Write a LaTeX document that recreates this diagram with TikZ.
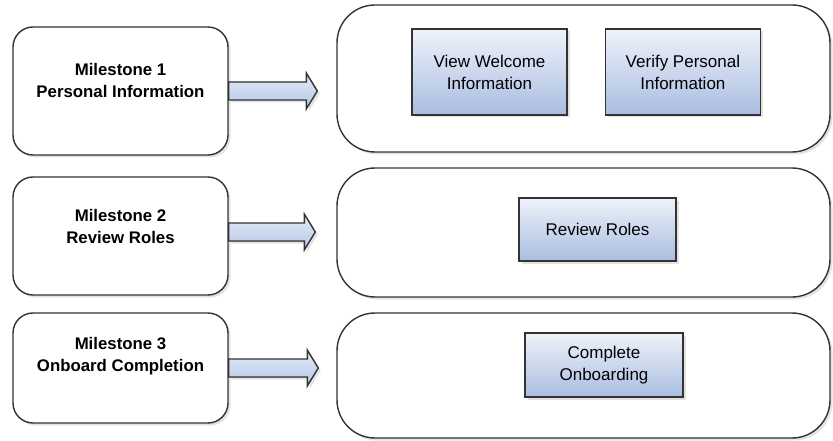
\documentclass[tikz,border=0pt]{standalone}
\usepackage{fontspec}
\setmainfont{Liberation Sans}
\usepackage{tikz}
\usetikzlibrary{calc,positioning,shadows}
\definecolor{edgegray}{HTML}{333333}
\definecolor{tasktop}{HTML}{EEF2FA}
\definecolor{taskbot}{HTML}{A9BDE0}
\definecolor{arrowtop}{HTML}{E4EBF7}
\definecolor{arrowbot}{HTML}{B4C6E6}
\newcommand{\fatarrow}[2]{%
  \filldraw[fat] let \p1=(#1), \p2=(#2) in
    (\x1,\y1+9pt) -- (\x2-11pt,\y1+9pt) -- (\x2-11pt,\y1+18pt) -- (\x2,\y1)
    -- (\x2-11pt,\y1-18pt) -- (\x2-11pt,\y1-9pt) -- (\x1,\y1-9pt) -- cycle;}

\begin{document}
\begin{tikzpicture}[x=1pt,y=-1pt,
    shade/.style={drop shadow={shadow xshift=2.5pt,shadow yshift=-2.5pt,fill=black!22}},
    msbox/.style={draw=edgegray,line width=1.4pt,rounded corners=20pt,fill=white,
      minimum width=215pt,shade},
    mstext/.style={font=\fontsize{16.8}{22}\selectfont\bfseries,align=center},
    lane/.style={draw=edgegray,line width=1.4pt,rounded corners=38pt,fill=white,
      minimum width=493pt,shade},
    task/.style={draw=edgegray,line width=1.4pt,top color=tasktop,bottom color=taskbot,
      minimum width=155pt,align=center,font=\fontsize{17}{22}\selectfont,shade},
    fat/.style={draw=edgegray,line width=1.4pt,top color=arrowtop,bottom color=arrowbot,shade}]
  \useasboundingbox (0,0) rectangle (833,441);
  % lanes with their tasks
  \node[lane,minimum height=147pt] (r1) at (583.5,78.5) {};
  \node[lane,minimum height=129pt] (r2) at (583.5,232.5) {};
  \node[lane,minimum height=125pt] (r3) at (583.5,375.5) {};
  \node[task,minimum height=86pt] (vw) at (489.5,72) {View Welcome\\Information};
  \node[task,minimum height=86pt,right=37pt of vw] (vp) {Verify Personal\\Information};
  \node[task,minimum width=157pt,minimum height=63pt] (rr) at (597.5,229.5) {Review Roles};
  \node[task,minimum width=158pt,minimum height=64pt] (co) at (604,365) {Complete\\Onboarding};
  % milestones
  \node[msbox,minimum height=128pt] (m1) at (120.5,91) {};
  \node[msbox,minimum height=118pt] (m2) at (120.5,236) {};
  \node[msbox,minimum height=110pt] (m3) at (120.5,368) {};
  \node[mstext] (m1t) at ([yshift=11pt]m1.center) {Milestone 1\\Personal Information};
  \node[mstext] (m2t) at ([yshift=10pt]m2.center) {Milestone 2\\Review Roles};
  \node[mstext] (m3t) at ([yshift=12pt]m3.center) {Milestone 3\\Onboard Completion};
  % arrows
  \path (m1.east -| r1.west) ++(-19,0) coordinate (t1);
  \path (m2.east -| r2.west) ++(-21,0) coordinate (t2);
  \path (m3.east -| r3.west) ++(-18,0) coordinate (t3);
  \fatarrow{m1.east}{t1}
  \fatarrow{[yshift=4pt]m2.east}{t2}
  \fatarrow{m3.east}{t3}
\end{tikzpicture}
\end{document}
